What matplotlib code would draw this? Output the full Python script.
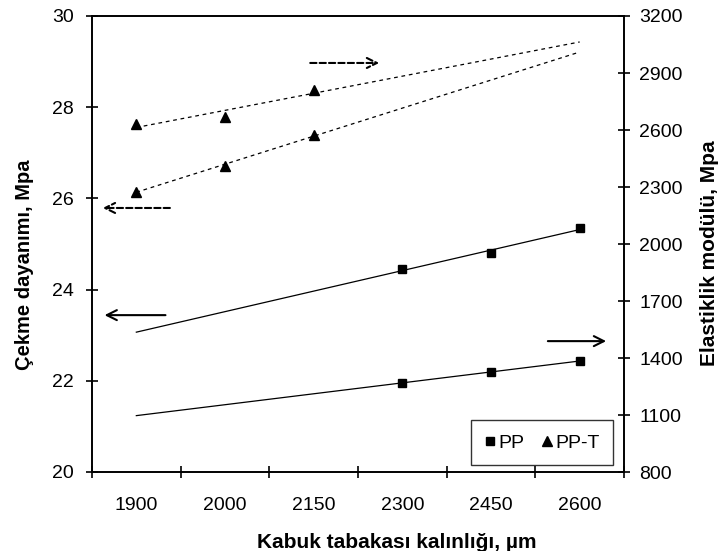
import numpy as np
import matplotlib.pyplot as plt

plt.rcParams['font.family'] = ['Liberation Sans', 'DejaVu Sans']

# category axis (Excel style, equally spaced)
thickness = ['1900', '2000', '2150', '2300', '2450', '2600']

# PP: measured at 2300, 2450, 2600
pp_idx = [3, 4, 5]
pp_strength = [24.45, 24.8, 25.35]      # left axis, MPa
pp_modulus = [1270, 1325, 1385]         # right axis, MPa

# PP-T: measured at 1900, 2000, 2150
ppt_idx = [0, 1, 2]
ppt_strength = [26.15, 26.72, 27.38]    # left axis, MPa
ppt_modulus = [2630, 2670, 2810]        # right axis, MPa

fig = plt.figure(figsize=(7.21, 5.51), dpi=100)
ax1 = fig.add_axes([92 / 721, 1 - 472 / 551, 532 / 721, 456 / 551])
ax2 = ax1.twinx()

x_all = np.arange(len(thickness))

def trend(ax, xi, yi, style):
    # linear trendline over category index, drawn across all categories
    k, b = np.polyfit(xi, yi, 1)
    line, = ax.plot(x_all, k * x_all + b, style, color='black', lw=0.9)
    if style == '--':
        line.set_dashes((3, 3))

trend(ax1, pp_idx, pp_strength, '-')
trend(ax2, pp_idx, pp_modulus, '-')
trend(ax1, ppt_idx, ppt_strength, '--')
trend(ax2, ppt_idx, ppt_modulus, '--')

ax1.plot(pp_idx, pp_strength, 's', color='black', ms=6, label='PP')
ax2.plot(pp_idx, pp_modulus, 's', color='black', ms=6)
ax1.plot(ppt_idx, ppt_strength, '^', color='black', ms=7, label='PP-T')
ax2.plot(ppt_idx, ppt_modulus, '^', color='black', ms=7)

ax1.set_xlim(-0.5, 5.5)
ax1.set_ylim(20, 30)
ax2.set_ylim(800, 3200)
ax1.set_yticks(np.arange(20, 31, 2))
ax2.set_yticks(np.arange(800, 3201, 300))

ax1.set_xticks(x_all)
ax1.set_xticklabels(thickness)
ax1.set_xticks(np.arange(-0.5, 6, 1), minor=True)
ax1.tick_params(axis='x', which='major', length=0, pad=18, labelsize=14)
ax1.tick_params(axis='x', which='minor', direction='inout', length=8, width=1.2)
ax1.tick_params(axis='y', direction='inout', length=8, width=1.2, labelsize=14, pad=9)
ax2.tick_params(axis='y', direction='inout', length=8, width=1.2, labelsize=14, pad=7)
for ax in (ax1, ax2):
    for s in ax.spines.values():
        s.set_linewidth(1.2)

ax1.set_xlabel('Kabuk tabakası kalınlığı, µm', fontsize=15, fontweight='bold')
ax1.set_ylabel('Çekme dayanımı, Mpa', fontsize=14.5, fontweight='bold')
ax2.set_ylabel('Elastiklik modülü, Mpa', fontsize=15, fontweight='bold')
ax1.xaxis.set_label_coords(0.573, -0.154)
ax1.yaxis.set_label_coords(-0.126, 0.454)
ax2.yaxis.set_label_coords(1.16, 0.48)
for lab in (ax1.xaxis.label, ax1.yaxis.label, ax2.yaxis.label):
    lab.set_verticalalignment('center')

# arrows pointing to the relevant axis
arrow_kw = dict(arrowstyle='->', color='black', lw=1.5, mutation_scale=18)
ax1.annotate('', xy=(2.77, 28.97), xytext=(1.93, 28.97),
             arrowprops=dict(arrow_kw, linestyle=(0, (3, 1.5))))
ax1.annotate('', xy=(-0.41, 25.79), xytext=(0.41, 25.79),
             arrowprops=dict(arrow_kw, linestyle=(0, (3, 1.5))))
ax1.annotate('', xy=(-0.39, 23.44), xytext=(0.36, 23.44), arrowprops=arrow_kw)
ax1.annotate('', xy=(5.33, 22.87), xytext=(4.61, 22.87), arrowprops=arrow_kw)

leg = ax1.legend(loc='lower right', ncol=2, fontsize=14, frameon=True, fancybox=False,
                 edgecolor='black', handlelength=0.5, handletextpad=0.2,
                 columnspacing=0.9, borderpad=0.7, borderaxespad=0,
                 bbox_to_anchor=(0.98, 0.015))
leg.get_frame().set_linewidth(1.0)

fig.savefig('out.png', dpi=100)
